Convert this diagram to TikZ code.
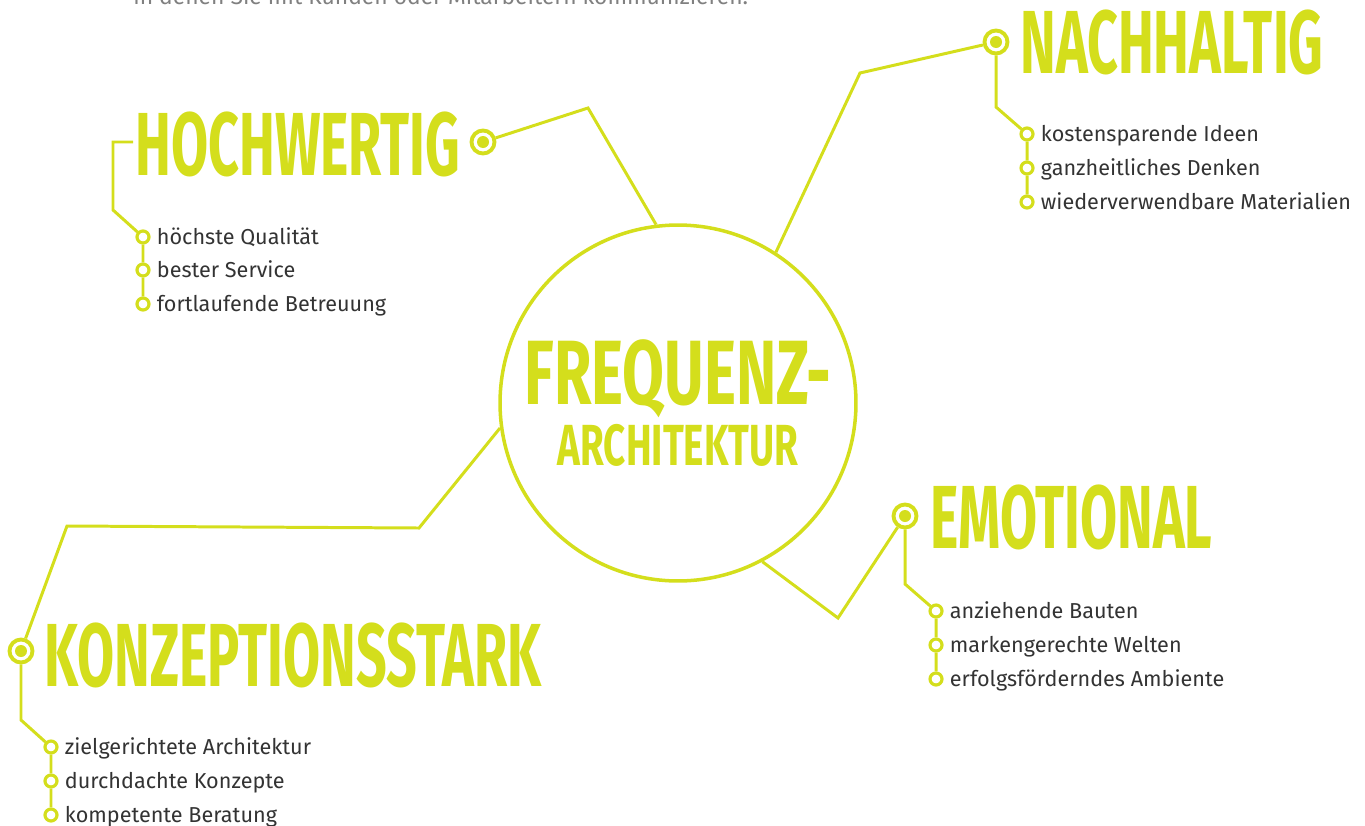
\documentclass[tikz,border=0pt]{standalone}
\usepackage{fontspec}
\usetikzlibrary{positioning}
\setmainfont{Fira Sans}
\newfontfamily\headfont[FakeStretch=0.6]{Fira Sans}
\newfontfamily\corefont[FakeStretch=0.665]{Fira Sans}
\definecolor{freqgreen}{HTML}{D4DE1C}
\definecolor{textgray}{HTML}{333333}

\tikzset{
	link/.style={freqgreen, line width=1.7pt},
	hub/.style={circle, draw=freqgreen, line width=2.2pt, fill=white,
		minimum size=0.46cm, inner sep=0pt,
		path picture={\fill[freqgreen] (path picture bounding box.center) circle (0.12cm);}},
	bullet/.style={circle, draw=freqgreen, line width=1.8pt, fill=white,
		minimum size=0.24cm, inner sep=0pt},
	head/.style={text=freqgreen, anchor=base west, inner sep=0pt,
		font=\headfont\bfseries\fontsize{51}{51}\selectfont},
	item/.style={text=textgray, anchor=west, inner sep=0pt,
		text height=8.5pt, text depth=0pt,
		font=\fontsize{12.3}{14}\selectfont},
}

\begin{document}
\begin{tikzpicture}[x=0.02cm, y=-0.02cm]
	\useasboundingbox (0,0) rectangle (1365,825);

	% cut-off line of text at the top
	\node [anchor=base west, inner sep=0pt, text=gray, font=\fontsize{13}{15}\selectfont]
		(intro) at (133,4) {in denen Sie mit Kunden oder Mitarbeitern kommunizieren.};

	% centre
	\node [circle, draw=freqgreen, line width=2pt, minimum size=7.12cm, align=center,
		text=freqgreen, font=\corefont\bfseries\fontsize{52}{30}\selectfont]
		(core) at (678,403) {FREQUENZ-\\[3pt]{\fontsize{33}{30}\selectfont ARCHITEKTUR}};

	% headlines
	\node [head] (hoch) at (135,175) {HOCHWERTIG};
	\node [head] (nach) at (1020,73) {NACHHALTIG};
	\node [head] (emo) at (930,548) {EMOTIONAL};
	\node [head] (kon) at (44,686) {KONZEPTIONSSTARK};

	\node [hub] (hochhub) at (483,142) {};
	\node [hub] (nachhub) at (996,42) {};
	\node [hub] (emohub) at (905,516) {};
	\node [hub] (konhub) at (21,651) {};

	\coordinate (hochbend) at (588,108);
	\coordinate (nachbend) at (860,73);
	\coordinate (emobend) at (838,618);
	\coordinate (konbend) at (67,526);
	\coordinate (konbend2) at (419,528);

	\draw [link] (hochhub) -- (hochbend) -- (core.97);
	\draw [link] (nachhub) -- (nachbend) -- (core.57);
	\draw [link] (emohub) -- (emobend) -- (core.-62);
	\draw [link] (konhub) -- (konbend) -- (konbend2) -- (core.188);

	% bullet lists
	\node [bullet] (hoch1) at (143,237) {};
	\node [bullet] (hoch2) at (143,270) {};
	\node [bullet] (hoch3) at (143,304) {};
	\node [item, right=0.12cm of hoch1] {höchste Qualität};
	\node [item, right=0.12cm of hoch2] {bester Service};
	\node [item, right=0.12cm of hoch3] {fortlaufende Betreuung};

	\node [bullet] (nach1) at (1027,134) {};
	\node [bullet] (nach2) at (1027,168) {};
	\node [bullet] (nach3) at (1027,202) {};
	\node [item, right=0.12cm of nach1] {kostensparende Ideen};
	\node [item, right=0.12cm of nach2] {ganzheitliches Denken};
	\node [item, right=0.12cm of nach3] {wiederverwendbare Materialien};

	\node [bullet] (emo1) at (936,611) {};
	\node [bullet] (emo2) at (936,645) {};
	\node [bullet] (emo3) at (936,679) {};
	\node [item, right=0.12cm of emo1] {anziehende Bauten};
	\node [item, right=0.12cm of emo2] {markengerechte Welten};
	\node [item, right=0.12cm of emo3] {erfolgsförderndes Ambiente};

	\node [bullet] (kon1) at (51,747) {};
	\node [bullet] (kon2) at (51,781) {};
	\node [bullet] (kon3) at (51,815) {};
	\node [item, right=0.12cm of kon1] {zielgerichtete Architektur};
	\node [item, right=0.12cm of kon2] {durchdachte Konzepte};
	\node [item, right=0.12cm of kon3] {kompetente Beratung};

	\coordinate (hochstub) at (133,142);
	\draw [link] (hochstub) -- (113,142) -- (113,210) -- (hoch1) -- (hoch2) -- (hoch3);
	\draw [link] (nachhub) -- (996,107) -- (nach1) -- (nach2) -- (nach3);
	\draw [link] (emohub) -- (905,584) -- (emo1) -- (emo2) -- (emo3);
	\draw [link] (konhub) -- (21,720) -- (kon1) -- (kon2) -- (kon3);
\end{tikzpicture}
\end{document}
